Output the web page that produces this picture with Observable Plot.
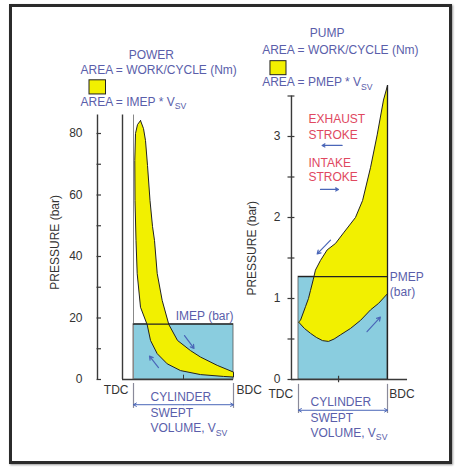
<!DOCTYPE html>
<html><head><meta charset="utf-8">
<script src="https://cdn.jsdelivr.net/npm/d3@7"></script>
<script src="https://cdn.jsdelivr.net/npm/@observablehq/plot@0.6"></script>
<style>
body{margin:0;background:#fff;}
#wrap{position:relative;width:460px;height:467px;background:#fff;overflow:hidden;}
#frame{position:absolute;left:9px;top:4px;width:437px;height:454px;border:3px solid #2b2b2b;box-shadow:1px 1px 2px #999;}
#wrap svg{position:absolute;left:0;top:0;}
</style></head><body><div id="wrap"><div id="frame"></div></div>
<script>
// ---- data (V = fraction of swept volume from TDC, p = bar) ----
const powerTicks = [0, 20, 40, 60, 80];
const powerMinor = [10, 30, 50, 70];
const pumpTicks = [0, 1, 2, 3];
const pumpMinor = [0.5, 1.5, 2.5, 3.5];
const IMEP = 18;
const PMEP = 1.27;
// power loop: expansion (peak -> BDC)
const powerExpV = [0.07, 0.10, 0.12, 0.14, 0.165, 0.19, 0.21, 0.237, 0.287, 0.353, 0.44, 0.57, 0.67, 0.837, 1.0];
const powerExpP = [84.2, 81.6, 77.7, 69.6, 58.2, 49.8, 45.2, 34.5, 25.7, 17.9, 12.7, 9.4, 7.3, 4.6, 2.4];
// power loop: compression + combustion (BDC -> peak)
const powerCompV = [1.0, 0.90, 0.67, 0.47, 0.337, 0.237, 0.17, 0.137, 0.07, 0.037, 0.025, 0.015, 0.013, 0.02, 0.04, 0.07];
const powerCompP = [0.8, 1.0, 1.6, 2.9, 5.1, 8.4, 12.7, 17.8, 23.5, 34.4, 45.2, 58.2, 71.2, 80, 82.9, 84.2];
// pump loop: exhaust (BDC -> TDC)
const pumpExhV = [1.0, 0.955, 0.884, 0.81, 0.72, 0.64, 0.506, 0.416, 0.322, 0.247, 0.19, 0.165, 0.135, 0.112, 0.079, 0.022, 0.0];
const pumpExhP = [3.63, 3.45, 3.02, 2.62, 2.21, 2.0, 1.81, 1.68, 1.60, 1.47, 1.35, 1.23, 1.10, 1.00, 0.90, 0.73, 0.71];
// pump loop: intake (TDC -> BDC)
const pumpIntV = [0.067, 0.135, 0.2, 0.27, 0.337, 0.40, 0.47, 0.584, 0.697, 0.81, 0.90, 1.0];
const pumpIntP = [0.63, 0.57, 0.52, 0.48, 0.47, 0.50, 0.55, 0.63, 0.73, 0.86, 0.94, 1.06];
// direction arrows along the loops
const powerArrows = [{v1: 0.51, p1: 14.3, v2: 0.605, p2: 10.1}, {v1: 0.25, p1: 3.9, v2: 0.16, p2: 7.6}];
const pumpArrows = [{v1: 0.36, p1: 1.72, v2: 0.21, p2: 1.55}, {v1: 0.77, p1: 0.59, v2: 0.92, p2: 0.77}];

const pts = (V, P) => V.map((v, i) => ({v, p: P[i]}));
const powerLoop = pts(powerExpV, powerExpP).concat(pts(powerCompV, powerCompP));
const pumpLoop = pts(pumpExhV, pumpExhP).concat(pts(pumpIntV, pumpIntP), [{v: pumpExhV[0], p: pumpExhP[0]}]);

const FONT = '"Liberation Sans", Arial, Helvetica, sans-serif';
const BLUE = "#8ACDDF", YELLOW = "#F2F000", INK = "#222", AX = "#3a3a3a";
const TXT = "#5A5EAA", RED = "#E0485F", ARW = "#4A66B8", GREY = "#333";
const style = {background: "transparent", fontFamily: FONT, overflow: "visible"};

function subs(svg) {
  d3.select(svg).selectAll("text").each(function () {
    const m = this.textContent.match(/^(.*)_\{(.*)\}(.*)$/);
    if (!m) return;
    const s = d3.select(this);
    s.text(null);
    s.append("tspan").text(m[1]);
    s.append("tspan").attr("dy", "0.4em").attr("font-size", "0.72em").text(m[2]);
    if (m[3]) s.append("tspan").attr("dy", "-0.4em").text(m[3]);
  });
  return svg;
}

// ---------- POWER panel ----------
const left = Plot.plot({
  width: 460, height: 467, style,
  x: {domain: [0, 1], range: [133, 233], axis: null},
  y: {domain: [0, 80], range: [379, 133], axis: null},
  marks: [
    Plot.rect([IMEP], {x1: 0, x2: 1, y1: 0, y2: d => d, fill: BLUE, stroke: "#555", strokeWidth: 0.8}),
    Plot.ruleX([-0.36], {y1: 0, y2: 86, stroke: AX, strokeWidth: 1.4}),
    Plot.ruleX([-0.11], {y1: 0, y2: 86, stroke: AX, strokeWidth: 1.4}),
    Plot.ruleX([0], {y1: 0, y2: 86, stroke: "#888", strokeWidth: 1}),
    Plot.ruleY([0], {x1: -0.11, x2: 1, stroke: AX, strokeWidth: 1.4}),
    Plot.ruleY(powerTicks.concat(powerMinor), {x1: -0.365, x2: -0.32, stroke: AX, strokeWidth: 1.2}),
    Plot.ruleX([0.5], {y1: 0, y2: 1.4, stroke: AX}),
    Plot.line(powerLoop, {x: "v", y: "p", fill: YELLOW, stroke: INK, strokeWidth: 1}),
    Plot.ruleY([IMEP], {x1: 0, x2: 1, stroke: INK, strokeWidth: 1.3}),
    Plot.arrow(powerArrows, {x1: "v1", y1: "p1", x2: "v2", y2: "p2", stroke: ARW, strokeWidth: 1.2, headLength: 5}),
    Plot.text(powerTicks, {x: -0.36, y: d => d, text: d => String(d), textAnchor: "end", dx: -15, fill: GREY, fontSize: 12}),
    Plot.text(["PRESSURE (bar)"], {x: -0.78, y: 44.6, rotate: -90, fill: GREY, fontSize: 12}),
    Plot.text(["POWER"], {x: 0.178, y: 105.6, fill: TXT, fontSize: 12}),
    Plot.text(["AREA = WORK/CYCLE (Nm)"], {x: -0.53, y: 100.5, textAnchor: "start", fill: TXT, fontSize: 12}),
    Plot.rect([0], {x1: -0.44, x2: -0.275, y1: 92.7, y2: 97.3, fill: YELLOW, stroke: INK, strokeWidth: 1}),
    Plot.text(["AREA = IMEP * V_{SV}"], {x: -0.53, y: 90.3, textAnchor: "start", fill: TXT, fontSize: 12}),
    Plot.text(["IMEP (bar)"], {x: 1.0, y: 20.6, textAnchor: "end", fill: TXT, fontSize: 12}),
    Plot.text(["TDC"], {x: -0.05, y: -3.6, textAnchor: "end", fill: GREY, fontSize: 12}),
    Plot.text(["BDC"], {x: 1.03, y: -3.6, textAnchor: "start", fill: GREY, fontSize: 12}),
    Plot.ruleX([0, 1], {y1: -1.3, y2: -9.4, stroke: "#8a8a9a", strokeWidth: 1.2}),
    Plot.arrow([0], {x1: 0.5, x2: 0, y1: -8.2, y2: -8.2, stroke: ARW, strokeWidth: 1, headLength: 5}),
    Plot.arrow([0], {x1: 0.5, x2: 1, y1: -8.2, y2: -8.2, stroke: ARW, strokeWidth: 1, headLength: 5}),
    Plot.text(["CYLINDER"], {x: 0.17, y: -5.75, textAnchor: "start", fill: TXT, fontSize: 12}),
    Plot.text(["SWEPT"], {x: 0.17, y: -11.1, textAnchor: "start", fill: TXT, fontSize: 12}),
    Plot.text(["VOLUME, V_{SV}"], {x: 0.17, y: -15.9, textAnchor: "start", fill: TXT, fontSize: 12})
  ]
});

// ---------- PUMP panel ----------
const right = Plot.plot({
  width: 460, height: 467, style,
  x: {domain: [0, 1], range: [298, 387], axis: null},
  y: {domain: [0, 3], range: [379, 136], axis: null},
  marks: [
    Plot.rect([PMEP], {x1: 0, x2: 1, y1: 0, y2: d => d, fill: BLUE, stroke: "#555", strokeWidth: 0.8}),
    Plot.ruleX([-0.079], {y1: 0, y2: 3.5, stroke: AX, strokeWidth: 1.4}),
    Plot.ruleY([0], {x1: -0.079, x2: 1.225, stroke: AX, strokeWidth: 1.4}),
    Plot.ruleY(pumpTicks.concat(pumpMinor), {x1: -0.118, x2: -0.04, stroke: AX, strokeWidth: 1.2}),
    Plot.ruleX([0.45], {y1: -0.04, y2: 0.04, stroke: AX, strokeWidth: 1.2}),
    Plot.line(pumpLoop, {x: "v", y: "p", fill: YELLOW, stroke: INK, strokeWidth: 1}),
    Plot.ruleY([PMEP], {x1: 0, x2: 1, stroke: INK, strokeWidth: 1.3}),
    Plot.ruleX([1], {y1: 0, y2: 3.63, stroke: INK, strokeWidth: 1.3}),
    Plot.arrow(pumpArrows, {x1: "v1", y1: "p1", x2: "v2", y2: "p2", stroke: ARW, strokeWidth: 1.2, headLength: 5}),
    Plot.text(pumpTicks, {x: -0.079, y: d => d, text: d => String(d), textAnchor: "end", dx: -11, fill: GREY, fontSize: 12}),
    Plot.text(["PRESSURE (bar)"], {x: -0.517, y: 1.62, rotate: -90, fill: GREY, fontSize: 12}),
    Plot.text(["PUMP"], {x: 0.322, y: 4.275, fill: TXT, fontSize: 12}),
    Plot.text(["AREA = WORK/CYCLE (Nm)"], {x: -0.408, y: 4.065, textAnchor: "start", fill: TXT, fontSize: 12}),
    Plot.rect([0], {x1: -0.315, x2: -0.135, y1: 3.757, y2: 3.93, fill: YELLOW, stroke: INK, strokeWidth: 1}),
    Plot.text(["AREA = PMEP * V_{SV}"], {x: -0.408, y: 3.67, textAnchor: "start", fill: TXT, fontSize: 12}),
    Plot.text(["EXHAUST"], {x: 0.112, y: 3.21, textAnchor: "start", fill: RED, fontSize: 12}),
    Plot.text(["STROKE"], {x: 0.112, y: 3.016, textAnchor: "start", fill: RED, fontSize: 12}),
    Plot.arrow([0], {x1: 0.49, x2: 0.266, y1: 2.89, y2: 2.89, stroke: ARW, strokeWidth: 1.2, headLength: 4}),
    Plot.text(["INTAKE"], {x: 0.112, y: 2.674, textAnchor: "start", fill: RED, fontSize: 12}),
    Plot.text(["STROKE"], {x: 0.112, y: 2.5, textAnchor: "start", fill: RED, fontSize: 12}),
    Plot.arrow([0], {x1: 0.247, x2: 0.449, y1: 2.346, y2: 2.346, stroke: ARW, strokeWidth: 1.2, headLength: 4}),
    Plot.text(["PMEP"], {x: 1.026, y: 1.263, textAnchor: "start", fill: TXT, fontSize: 12}),
    Plot.text(["(bar)"], {x: 1.026, y: 1.08, textAnchor: "start", fill: TXT, fontSize: 12}),
    Plot.text(["TDC"], {x: -0.06, y: -0.18, textAnchor: "end", fill: GREY, fontSize: 12}),
    Plot.text(["BDC"], {x: 1.02, y: -0.18, textAnchor: "start", fill: GREY, fontSize: 12}),
    Plot.ruleX([0, 1], {y1: -0.06, y2: -0.42, stroke: "#8a8a9a", strokeWidth: 1.2}),
    Plot.arrow([0], {x1: 0.5, x2: 0, y1: -0.38, y2: -0.38, stroke: ARW, strokeWidth: 1, headLength: 5}),
    Plot.arrow([0], {x1: 0.5, x2: 1, y1: -0.38, y2: -0.38, stroke: ARW, strokeWidth: 1, headLength: 5}),
    Plot.text(["CYLINDER"], {x: 0.135, y: -0.277, textAnchor: "start", fill: TXT, fontSize: 12}),
    Plot.text(["SWEPT"], {x: 0.135, y: -0.48, textAnchor: "start", fill: TXT, fontSize: 12}),
    Plot.text(["VOLUME, V_{SV}"], {x: 0.135, y: -0.66, textAnchor: "start", fill: TXT, fontSize: 12})
  ]
});

const wrap = document.getElementById("wrap");
wrap.appendChild(subs(left));
wrap.appendChild(subs(right));
</script></body></html>
